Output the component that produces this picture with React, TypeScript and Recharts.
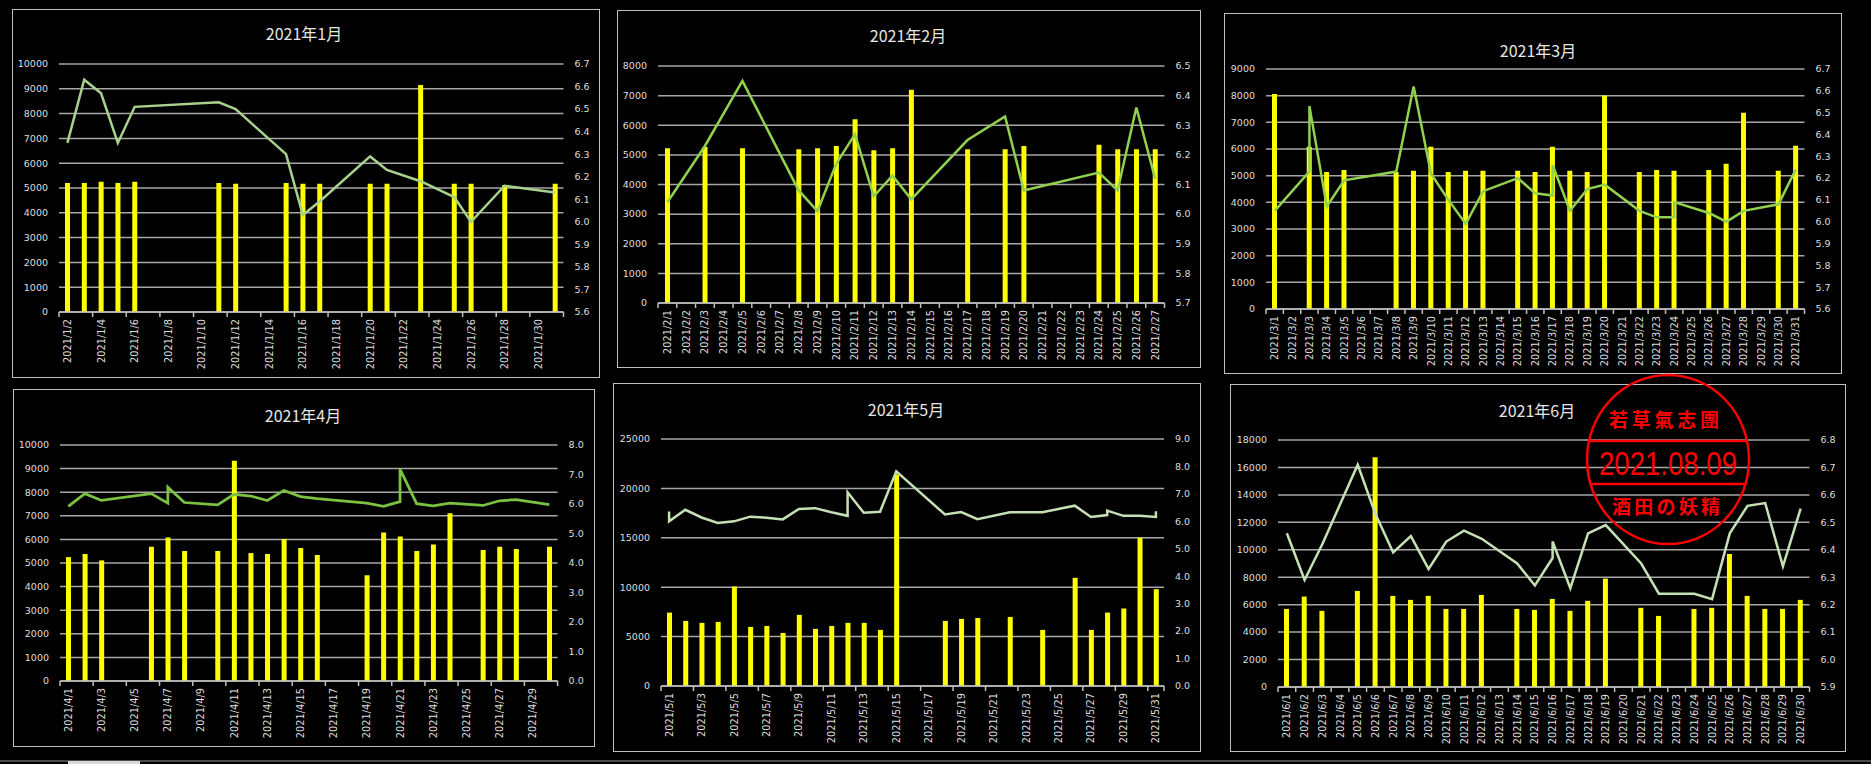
import { ComposedChart, Bar, Line, XAxis, YAxis, CartesianGrid } from 'recharts';

// ---- data ----
const JAN_BAR_DAYS = [2, 3, 4, 5, 6, 11, 12, 15, 16, 17, 20, 21, 23, 25, 26, 28, 31];
const JAN_BARS = [5200, 5200, 5250, 5200, 5250, 5200, 5170, 5200, 5170, 5170, 5170, 5170, 9150, 5170, 5170, 5120, 5170];
const JAN_LINE_DAYS = [2, 3, 4, 5, 6, 11, 12, 15, 16, 17, 20, 21, 23, 25, 26, 28, 31];
const JAN_LINE = [6.35, 6.63, 6.57, 6.35, 6.51, 6.53, 6.5, 6.3, 6.03, 6.09, 6.29, 6.23, 6.18, 6.11, 6.0, 6.16, 6.13];

const FEB_BAR_DAYS = [1, 3, 5, 8, 9, 10, 11, 12, 13, 14, 17, 19, 20, 24, 25, 26, 27];
const FEB_BARS = [5220, 5270, 5220, 5190, 5220, 5300, 6200, 5160, 5220, 7200, 5190, 5190, 5300, 5340, 5190, 5190, 5190];
const FEB_LINE_DAYS = [1, 3, 5, 8, 9, 10, 11, 12, 13, 14, 17, 19, 20, 24, 25, 26, 27];
const FEB_LINE = [6.04, 6.23, 6.45, 6.08, 6.01, 6.17, 6.27, 6.06, 6.13, 6.05, 6.25, 6.33, 6.08, 6.14, 6.08, 6.36, 6.12];

const MAR_BAR_DAYS = [1, 3, 4, 5, 8, 9, 10, 11, 12, 13, 15, 16, 17, 18, 19, 20, 22, 23, 24, 26, 27, 28, 30, 31];
const MAR_BARS = [8060, 6080, 5140, 5210, 5140, 5180, 6080, 5140, 5180, 5180, 5180, 5140, 6080, 5180, 5140, 8010, 5140, 5210, 5180, 5210, 5450, 7360, 5180, 6120];
const MAR_LINE_DAYS = [1, 3, 3, 4, 5, 8, 9, 10, 11, 12, 13, 15, 16, 17, 17, 18, 19, 20, 22, 23, 24, 24, 26, 27, 28, 30, 31];
const MAR_LINE = [6.05, 6.23, 6.53, 6.07, 6.19, 6.23, 6.62, 6.22, 6.1, 5.99, 6.14, 6.2, 6.13, 6.12, 6.26, 6.05, 6.15, 6.17, 6.05, 6.02, 6.02, 6.09, 6.04, 6.0, 6.05, 6.08, 6.24];

const APR_BAR_DAYS = [1, 2, 3, 6, 7, 8, 10, 11, 12, 13, 14, 15, 16, 19, 20, 21, 22, 23, 24, 26, 27, 28, 30];
const APR_BARS = [5250, 5380, 5110, 5690, 6080, 5510, 5510, 9330, 5420, 5380, 6020, 5640, 5340, 4480, 6290, 6120, 5510, 5780, 7110, 5550, 5690, 5590, 5690];
const APR_LINE_DAYS = [1, 2, 3, 6, 7, 7, 8, 10, 11, 12, 13, 14, 15, 16, 19, 20, 21, 21, 22, 23, 24, 26, 27, 28, 30];
const APR_LINE = [5.92, 6.35, 6.12, 6.35, 6.03, 6.57, 6.05, 5.97, 6.33, 6.27, 6.12, 6.46, 6.25, 6.18, 6.03, 5.92, 6.08, 7.18, 6.01, 5.94, 6.03, 5.95, 6.11, 6.15, 5.98];

const MAY_BAR_DAYS = [1, 2, 3, 4, 5, 6, 7, 8, 9, 10, 11, 12, 13, 14, 15, 18, 19, 20, 22, 24, 26, 27, 28, 29, 30, 31];
const MAY_BARS = [7430, 6590, 6390, 6490, 10070, 5980, 6080, 5370, 7200, 5780, 6080, 6390, 6390, 5680, 21400, 6590, 6790, 6890, 6990, 5680, 10950, 5680, 7430, 7840, 15000, 9800];
const MAY_LINE_DAYS = [1, 1, 2, 3, 4, 5, 6, 7, 8, 9, 10, 11, 12, 12, 13, 14, 15, 18, 19, 20, 22, 24, 26, 27, 28, 28, 29, 30, 31, 31];
const MAY_LINE = [6.36, 6.0, 6.42, 6.14, 5.94, 6.0, 6.17, 6.13, 6.07, 6.45, 6.48, 6.33, 6.2, 7.06, 6.31, 6.35, 7.82, 6.25, 6.34, 6.08, 6.33, 6.33, 6.57, 6.16, 6.23, 6.39, 6.2, 6.2, 6.16, 6.37];

const JUN_BAR_DAYS = [1, 2, 3, 5, 6, 7, 8, 9, 10, 11, 12, 14, 15, 16, 17, 18, 19, 21, 22, 24, 25, 26, 27, 28, 29, 30];
const JUN_BARS = [5690, 6590, 5550, 7000, 16740, 6640, 6350, 6640, 5690, 5690, 6710, 5690, 5620, 6420, 5550, 6280, 7900, 5770, 5180, 5690, 5770, 9700, 6640, 5690, 5690, 6350];
const JUN_LINE_DAYS = [1, 2, 3, 5, 6, 7, 8, 9, 10, 11, 12, 14, 15, 16, 16, 17, 18, 19, 21, 22, 24, 25, 26, 27, 28, 29, 30];
const JUN_LINE = [6.46, 6.29, 6.42, 6.71, 6.53, 6.39, 6.45, 6.33, 6.43, 6.47, 6.44, 6.35, 6.27, 6.37, 6.43, 6.26, 6.46, 6.49, 6.35, 6.24, 6.24, 6.22, 6.46, 6.56, 6.57, 6.34, 6.55];

// tick labels
const TICKS_10K = [0, 1000, 2000, 3000, 4000, 5000, 6000, 7000, 8000, 9000, 10000];
const TICKS_8K = [0, 1000, 2000, 3000, 4000, 5000, 6000, 7000, 8000];
const TICKS_9K = [0, 1000, 2000, 3000, 4000, 5000, 6000, 7000, 8000, 9000];
const TICKS_25K = [0, 5000, 10000, 15000, 20000, 25000];
const TICKS_18K = [0, 2000, 4000, 6000, 8000, 10000, 12000, 14000, 16000, 18000];
const PH_56_67 = [5.6, 5.7, 5.8, 5.9, 6.0, 6.1, 6.2, 6.3, 6.4, 6.5, 6.6, 6.7];
const PH_57_65 = [5.7, 5.8, 5.9, 6.0, 6.1, 6.2, 6.3, 6.4, 6.5];
const PH_0_8 = [0, 1, 2, 3, 4, 5, 6, 7, 8];
const PH_0_9 = [0, 1, 2, 3, 4, 5, 6, 7, 8, 9];
const PH_59_68 = [5.9, 6.0, 6.1, 6.2, 6.3, 6.4, 6.5, 6.6, 6.7, 6.8];

const TICK_FONT = 'DejaVu Sans';
const TICK_COLOR = '#dedede';
const GRID = '#a6a6a6';

const panels = [
  {
    title: '2021年1月', month: 1, first: 2, last: 31, interval: 1,
    barDays: JAN_BAR_DAYS, bars: JAN_BARS, lineDays: JAN_LINE_DAYS, line: JAN_LINE,
    left: TICKS_10K, right: PH_56_67, color: '#a9d18e', lw: 2.5,
    box: [12, 9, 588, 369], plot: [59, 563.5, 64, 312], tp: [304, 33],
  },
  {
    title: '2021年2月', month: 2, first: 1, last: 27, interval: 0,
    barDays: FEB_BAR_DAYS, bars: FEB_BARS, lineDays: FEB_LINE_DAYS, line: FEB_LINE,
    left: TICKS_8K, right: PH_57_65, color: '#92d050', lw: 2.5,
    box: [617, 10, 584, 358], plot: [658, 1164.5, 66, 303], tp: [908, 35],
  },
  {
    title: '2021年3月', month: 3, first: 1, last: 31, interval: 0,
    barDays: MAR_BAR_DAYS, bars: MAR_BARS, lineDays: MAR_LINE_DAYS, line: MAR_LINE,
    left: TICKS_9K, right: PH_56_67, color: '#92d050', lw: 2.5,
    box: [1224, 13, 618, 361], plot: [1266, 1804.5, 69, 309], tp: [1538, 50],
  },
  {
    title: '2021年4月', month: 4, first: 1, last: 30, interval: 1,
    barDays: APR_BAR_DAYS, bars: APR_BARS, lineDays: APR_LINE_DAYS, line: APR_LINE,
    left: TICKS_10K, right: PH_0_8, color: '#7cc242', lw: 2.75,
    box: [13, 389, 582, 358], plot: [60, 557.6, 445, 681], tp: [303, 415],
  },
  {
    title: '2021年5月', month: 5, first: 1, last: 31, interval: 1,
    barDays: MAY_BAR_DAYS, bars: MAY_BARS, lineDays: MAY_LINE_DAYS, line: MAY_LINE,
    left: TICKS_25K, right: PH_0_9, color: '#c5e0b4', lw: 2.5,
    box: [613, 383, 588, 369], plot: [661, 1164, 439, 686], tp: [906, 409],
  },
  {
    title: '2021年6月', month: 6, first: 1, last: 30, interval: 0,
    barDays: JUN_BAR_DAYS, bars: JUN_BARS, lineDays: JUN_LINE_DAYS, line: JUN_LINE,
    left: TICKS_18K, right: PH_59_68, color: '#c5e0b4', lw: 2.5,
    box: [1230, 384, 616, 368], plot: [1278, 1809.5, 440, 687], tp: [1537, 410],
  },
];

const Panel = ({ p }: { p: any }) => {
  const [bx, by, bw, bh] = p.box;
  const [x0, x1, y0, y1] = p.plot;
  const n = p.last - p.first + 1;
  const rows = Array.from({ length: n }, (_, i) => {
    const d = p.first + i;
    const k = p.barDays.indexOf(d);
    return { date: `2021/${p.month}/${d}`, v: k >= 0 ? p.bars[k] : null };
  });
  const lineData = p.lineDays.map((d: number, i: number) => ({ x: d - p.first, y: p.line[i] }));
  const leftW = x0 - bx;
  const rightW = bx + bw - x1;
  const top = y0 - by;
  const xH = by + bh - y1;
  const plotW = x1 - x0;
  const band = plotW / n;
  const firstLabel = rows[0].date;

  const XTick = (props: any) => {
    const { x, y, payload } = props;
    const tx = x - band / 2;
    const ly = y + 7;
    return (
      <g>
        <line x1={tx} x2={tx} y1={y} y2={y + 5} stroke="#bfbfbf" strokeWidth={1.5} />
        {payload.value === firstLabel && (
          <line x1={tx + plotW} x2={tx + plotW} y1={y} y2={y + 5} stroke="#bfbfbf" strokeWidth={1.5} />
        )}
        <text
          x={x}
          y={ly}
          transform={`rotate(-90 ${x} ${ly})`}
          textAnchor="end"
          dominantBaseline="central"
          fill={TICK_COLOR}
          fontSize={9.8}
          fontFamily={TICK_FONT}
        >
          {payload.value}
        </text>
      </g>
    );
  };

  const tickStyle = { fill: TICK_COLOR, fontSize: 9.5, fontFamily: TICK_FONT };

  return (
    <>
      <div style={{ position: 'absolute', left: bx, top: by, width: bw, height: bh }}>
        <ComposedChart width={bw} height={bh} data={rows} margin={{ top, right: 0, bottom: 0, left: 0 }}>
          <CartesianGrid vertical={false} stroke={GRID} strokeWidth={1.5} xAxisId="cat" yAxisId="left" />
          <XAxis
            xAxisId="cat"
            dataKey="date"
            interval={p.interval}
            height={xH}
            tickSize={0}
            tickMargin={0}
            axisLine={{ stroke: '#bfbfbf', strokeWidth: 1.5 }}
            tick={<XTick />}
          />
          <XAxis xAxisId="num" type="number" dataKey="x" domain={[-0.5, n - 0.5]} allowDataOverflow hide />
          <YAxis
            yAxisId="left"
            width={leftW}
            domain={[p.left[0], p.left[p.left.length - 1]]}
            ticks={p.left}
            interval={0}
            axisLine={false}
            tickLine={false}
            tickSize={0}
            tickMargin={11}
            tick={tickStyle}
          />
          <YAxis
            yAxisId="right"
            orientation="right"
            width={rightW}
            domain={[p.right[0], p.right[p.right.length - 1]]}
            ticks={p.right}
            interval={0}
            axisLine={false}
            tickLine={false}
            tickSize={0}
            tickMargin={11}
            tick={tickStyle}
            tickFormatter={(v: number) => v.toFixed(1)}
          />
          <Bar xAxisId="cat" yAxisId="left" dataKey="v" fill="#ffff00" barSize={5} isAnimationActive={false} />
          <Line
            xAxisId="num"
            yAxisId="right"
            data={lineData}
            dataKey="y"
            type="linear"
            stroke={p.color}
            strokeWidth={p.lw}
            dot={false}
            activeDot={false}
            isAnimationActive={false}
          />
        </ComposedChart>
      </div>
      <div
        style={{
          position: 'absolute', left: bx, top: by, width: bw, height: bh,
          border: '1.5px solid #bfbfbf', boxSizing: 'border-box', pointerEvents: 'none',
        }}
      />
      <div
        style={{
          position: 'absolute', left: p.tp[0], top: p.tp[1], transform: 'translate(-50%, -50%)',
          whiteSpace: 'nowrap', color: '#e6e6e6', fontSize: 16, fontFamily: '"Noto Sans CJK JP", sans-serif',
        }}
      >
        {p.title}
      </div>
    </>
  );
};

const Stamp = () => (
  <svg width={1871} height={764} style={{ position: 'absolute', left: 0, top: 0, pointerEvents: 'none' }}>
    <ellipse cx={1668} cy={459.5} rx={81} ry={84.5} fill="none" stroke="#ff0000" strokeWidth={2.5} />
    <line x1={1589} x2={1747} y1={441} y2={441} stroke="#ff0000" strokeWidth={2.5} />
    <line x1={1590.5} x2={1745.5} y1={484} y2={484} stroke="#ff0000" strokeWidth={2.5} />
    <text x={1664} y={418} textAnchor="middle" dominantBaseline="central" fill="#ff0000" fontSize={19}
      fontWeight={700} fontFamily='"Noto Sans CJK TC", "Noto Sans CJK JP"' textLength={110} lengthAdjust="spacing">若草氣志團</text>
    <text x={1668} y={463} textAnchor="middle" dominantBaseline="central" fill="#ff0000" fontSize={34}
      fontFamily='"Liberation Sans", Arial' textLength={138} lengthAdjust="spacingAndGlyphs">2021.08.09</text>
    <text x={1666} y={505} textAnchor="middle" dominantBaseline="central" fill="#ff0000" fontSize={19}
      fontWeight={700} fontFamily='"Noto Sans CJK JP"' textLength={108} lengthAdjust="spacing">酒田の妖精</text>
  </svg>
);

export default function App() {
  return (
    <div style={{ position: 'absolute', left: 0, top: 0, width: 1871, height: 764, background: '#000', overflow: 'hidden' }}>
      {panels.map((p) => (
        <Panel key={p.title} p={p} />
      ))}
      <div style={{ position: 'absolute', left: 0, top: 760, width: 1871, height: 1.5, background: '#4a4a4a' }} />
      <div style={{ position: 'absolute', left: 68, top: 761, width: 72, height: 3, background: '#d9d9d9' }} />
      <Stamp />
    </div>
  );
}
